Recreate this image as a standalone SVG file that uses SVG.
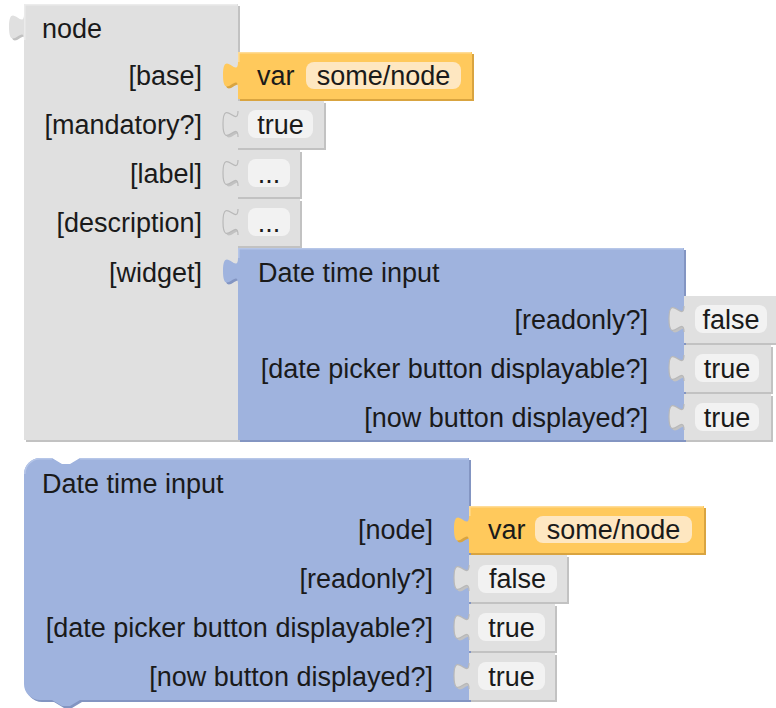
<svg xmlns="http://www.w3.org/2000/svg" xmlns:xlink="http://www.w3.org/1999/xlink" width="776" height="708" viewBox="0 0 776 708">
<style>
text{font-family:"Liberation Sans",Arial,sans-serif;font-size:27px;fill:#1a1a1a}
.r{text-anchor:end}.c{text-anchor:middle}
.gray{fill:#e0e0e0}.gray-d{fill:#c2c2c2}
.org{fill:#ffc95c}.org-d{fill:#d9a440}
.blue{fill:#9fb3de}.blue-d{fill:#8395c2}
.fg{fill:#f2f2f2}.fo{fill:#fee7c1}
.tab{fill:none;stroke:#b8b8b8;stroke-width:1.2}
.hl-g{fill:none;stroke:#ececec;stroke-width:1.5}
.hl-o{fill:none;stroke:#ffdc96;stroke-width:1.5}
.hl-b{fill:none;stroke:#b6c6e8;stroke-width:1.5}
</style>
<defs>
<path id="s-node" d="M24,4H238V440H24V40c0,-17.3 -15,13.9 -15,-13s15,4.3 15,-13Z"/>
<path id="s-var1" d="M238,52H472V99H238V88c0,-17.3 -15,13.9 -15,-13s15,4.3 15,-13Z"/>
<path id="s-true1" d="M238,101H324V148H238V137c0,-17.3 -15,13.9 -15,-13s15,4.3 15,-13Z"/>
<path id="s-lab" d="M238,150H300V197H238V186c0,-17.3 -15,13.9 -15,-13s15,4.3 15,-13Z"/>
<path id="s-desc" d="M238,199H300V246H238V235c0,-17.3 -15,13.9 -15,-13s15,4.3 15,-13Z"/>
<path id="s-dti1" d="M238,248H684V440H238V284c0,-17.3 -15,13.9 -15,-13s15,4.3 15,-13Z"/>
<path id="s-false1" d="M684,296H790V343H684V332c0,-17.3 -15,13.9 -15,-13s15,4.3 15,-13Z"/>
<path id="s-true2" d="M684,345H771V392H684V381c0,-17.3 -15,13.9 -15,-13s15,4.3 15,-13Z"/>
<path id="s-true3" d="M684,394H771V440H684V430c0,-17.3 -15,13.9 -15,-13s15,4.3 15,-13Z"/>
<path id="s-dti2" d="M24,474a16,16 0 0 1 16,-16H52l10,6h8l10,-6H469V700H80l-10,6h-8l-10,-6H40a16,16 0 0 1 -16,-16Z"/>
<path id="s-var2" d="M469,506H704V553H469V542c0,-17.3 -15,13.9 -15,-13s15,4.3 15,-13Z"/>
<path id="s-false2" d="M469,555H567V602H469V591c0,-17.3 -15,13.9 -15,-13s15,4.3 15,-13Z"/>
<path id="s-true4" d="M469,604H555V651H469V640c0,-17.3 -15,13.9 -15,-13s15,4.3 15,-13Z"/>
<path id="s-true5" d="M469,653H555V700H469V689c0,-17.3 -15,13.9 -15,-13s15,4.3 15,-13Z"/>
</defs>
<rect width="776" height="708" fill="#ffffff"/>
<g id="connectors"/>

<g id="node">
<use xlink:href="#s-node" class="gray-d" transform="translate(2,2)"/>
<use xlink:href="#s-node" class="gray"/>
<path class="hl-g" d="M24.8,40V4.8H237"/>
<text x="42" y="37.5">node</text>
<text class="r" x="202" y="85">[base]</text>
<text class="r" x="202" y="134">[mandatory?]</text>
<text class="r" x="202" y="183">[label]</text>
<text class="r" x="202" y="232">[description]</text>
<text class="r" x="202" y="281.5">[widget]</text>
</g>

<g id="var-base">
<use xlink:href="#s-var1" class="org-d" transform="translate(2,2)"/>
<use xlink:href="#s-var1" class="org"/>
<path class="hl-o" d="M238.8,62V52.8H471"/>
<text x="257" y="85">var</text>
<rect class="fo" x="306" y="62" width="155" height="27" rx="8"/>
<text class="c" x="383.5" y="85">some/node</text>
</g>

<g id="mandatory-true">
<use xlink:href="#s-true1" class="gray-d" transform="translate(2,2)"/>
<use xlink:href="#s-true1" class="gray"/>
<path class="tab" d="M238,137c0,-17.3 -15,13.9 -15,-13s15,4.3 15,-13"/>
<rect class="fg" x="248" y="110" width="65" height="28" rx="8"/>
<text class="c" x="280.5" y="134">true</text>
</g>

<g id="label-text">
<use xlink:href="#s-lab" class="gray-d" transform="translate(2,2)"/>
<use xlink:href="#s-lab" class="gray"/>
<path class="tab" d="M238,186c0,-17.3 -15,13.9 -15,-13s15,4.3 15,-13"/>
<rect class="fg" x="248" y="159" width="42" height="28" rx="8"/>
<text class="c" x="269" y="183">...</text>
</g>

<g id="description-text">
<use xlink:href="#s-desc" class="gray-d" transform="translate(2,2)"/>
<use xlink:href="#s-desc" class="gray"/>
<path class="tab" d="M238,235c0,-17.3 -15,13.9 -15,-13s15,4.3 15,-13"/>
<rect class="fg" x="248" y="208" width="42" height="28" rx="8"/>
<text class="c" x="269" y="232">...</text>
</g>

<g id="widget-datetime">
<use xlink:href="#s-dti1" class="blue-d" transform="translate(2,2)"/>
<use xlink:href="#s-dti1" class="blue"/>
<path class="hl-b" d="M238.8,258V248.8H683"/>
<text x="258" y="281.5">Date time input</text>
<text class="r" x="648" y="329">[readonly?]</text>
<text class="r" x="648" y="378">[date picker button displayable?]</text>
<text class="r" x="648" y="427">[now button displayed?]</text>
</g>

<g id="readonly-false-1">
<use xlink:href="#s-false1" class="gray-d" transform="translate(2,2)"/>
<use xlink:href="#s-false1" class="gray"/>
<path class="tab" d="M684,332c0,-17.3 -15,13.9 -15,-13s15,4.3 15,-13"/>
<rect class="fg" x="695" y="305" width="72" height="28" rx="8"/>
<text class="c" x="731" y="329">false</text>
</g>

<g id="picker-true-1">
<use xlink:href="#s-true2" class="gray-d" transform="translate(2,2)"/>
<use xlink:href="#s-true2" class="gray"/>
<path class="tab" d="M684,381c0,-17.3 -15,13.9 -15,-13s15,4.3 15,-13"/>
<rect class="fg" x="695" y="354" width="64" height="28" rx="8"/>
<text class="c" x="727" y="378">true</text>
</g>

<g id="now-true-1">
<use xlink:href="#s-true3" class="gray-d" transform="translate(2,2)"/>
<use xlink:href="#s-true3" class="gray"/>
<path class="tab" d="M684,430c0,-17.3 -15,13.9 -15,-13s15,4.3 15,-13"/>
<rect class="fg" x="695" y="403" width="64" height="28" rx="8"/>
<text class="c" x="727" y="427">true</text>
</g>

<g id="datetime-input">
<use xlink:href="#s-dti2" class="blue-d" transform="translate(2,2)"/>
<use xlink:href="#s-dti2" class="blue"/>
<path class="hl-b" d="M24.8,474a15.2,15.2 0 0 1 15.2,-15.2H52M80,458.8H468"/>
<text x="42" y="492.5">Date time input</text>
<text class="r" x="433" y="539">[node]</text>
<text class="r" x="433" y="588">[readonly?]</text>
<text class="r" x="433" y="637">[date picker button displayable?]</text>
<text class="r" x="433" y="686">[now button displayed?]</text>
</g>

<g id="var-node">
<use xlink:href="#s-var2" class="org-d" transform="translate(2,2)"/>
<use xlink:href="#s-var2" class="org"/>
<path class="hl-o" d="M469.8,516V506.8H703"/>
<text x="488" y="539">var</text>
<rect class="fo" x="535" y="516" width="157" height="27" rx="8"/>
<text class="c" x="613.5" y="539">some/node</text>
</g>

<g id="readonly-false-2">
<use xlink:href="#s-false2" class="gray-d" transform="translate(2,2)"/>
<use xlink:href="#s-false2" class="gray"/>
<path class="tab" d="M469,591c0,-17.3 -15,13.9 -15,-13s15,4.3 15,-13"/>
<rect class="fg" x="478" y="565" width="79" height="28" rx="8"/>
<text class="c" x="517.5" y="588">false</text>
</g>

<g id="picker-true-2">
<use xlink:href="#s-true4" class="gray-d" transform="translate(2,2)"/>
<use xlink:href="#s-true4" class="gray"/>
<path class="tab" d="M469,640c0,-17.3 -15,13.9 -15,-13s15,4.3 15,-13"/>
<rect class="fg" x="478" y="613" width="67" height="28" rx="8"/>
<text class="c" x="511.5" y="637">true</text>
</g>

<g id="now-true-2">
<use xlink:href="#s-true5" class="gray-d" transform="translate(2,2)"/>
<use xlink:href="#s-true5" class="gray"/>
<path class="tab" d="M469,689c0,-17.3 -15,13.9 -15,-13s15,4.3 15,-13"/>
<rect class="fg" x="478" y="662" width="67" height="28" rx="8"/>
<text class="c" x="511.5" y="686">true</text>
</g>
</svg>
